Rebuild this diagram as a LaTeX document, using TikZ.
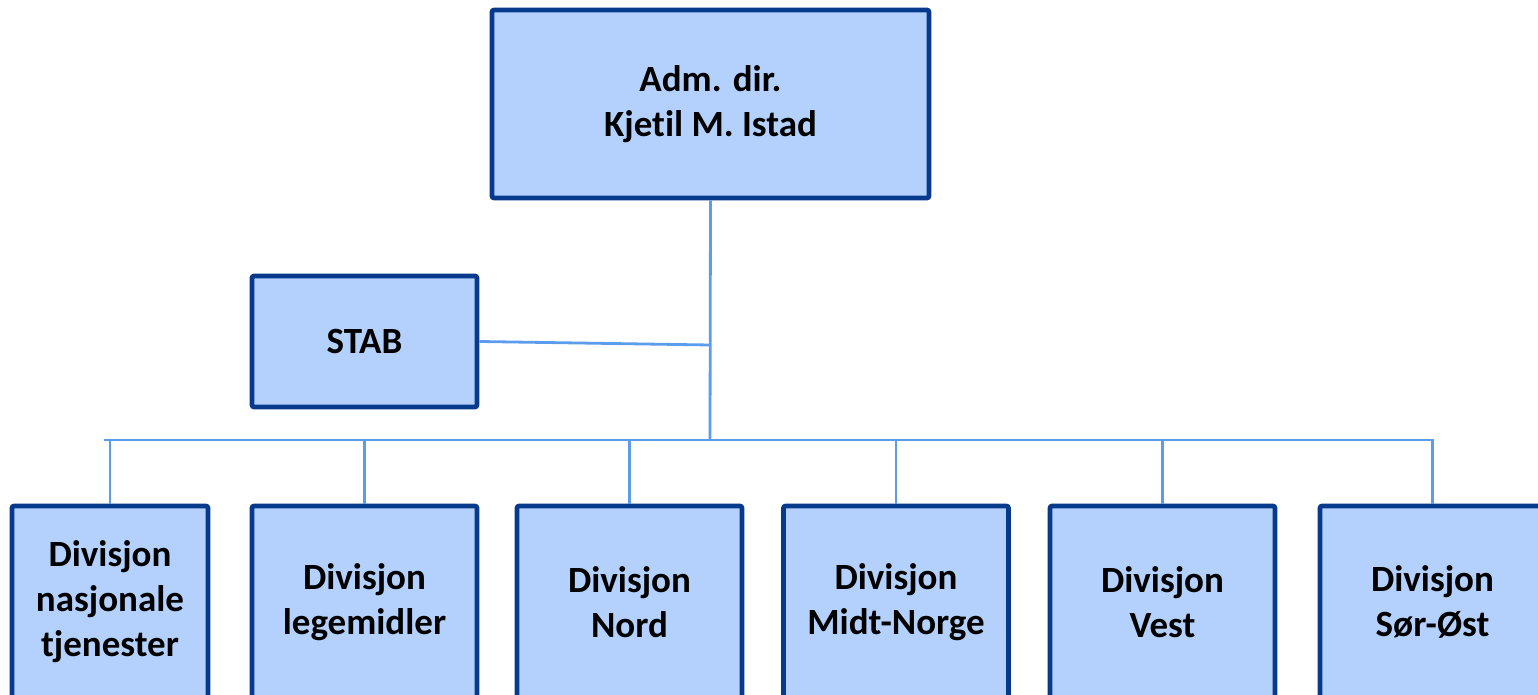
\documentclass[tikz,border=0pt]{standalone}
\usepackage{fontspec}
\setmainfont{Carlito}[Ligatures=NoCommon]
\definecolor{boxfill}{HTML}{B4D0FC}
\definecolor{boxline}{HTML}{083A8C}
\definecolor{wirecol}{HTML}{5C9CEC}
\begin{document}
\begin{tikzpicture}[x=0.5pt,y=-0.5pt]

    \tikzset{
      unit/.style={
        draw=boxline,
        fill=boxfill,
        line width=2.3pt,
        rounded corners=1pt,
        align=center,
        inner sep=0pt,
        font=\fontsize{18.5}{22.5}\selectfont\bfseries,
      },
      wire/.style={
        draw=wirecol,
        line width=1.4pt,
      },
    }
    \useasboundingbox (0,0) rectangle (1538,695);
    \clip (0,0) rectangle (1538,695);

	\node[unit, minimum width=218.5pt, minimum height=94pt] (dir) at (710.5,104) {Adm. dir.\\ Kjetil M. Istad};
	\node[unit, minimum width=112.5pt, minimum height=65.5pt] (stab) at (364.5,341.5) {STAB};

	\node[unit, minimum width=98pt, minimum height=96pt] (nasj) at (110,602) {Divisjon\\ nasjonale\\ tjenester};
	\node[unit, minimum width=112.5pt, minimum height=96pt] (lege) at (364.5,602) {Divisjon\\ legemidler};
	\node[unit, minimum width=112.5pt, minimum height=96pt] (nord) at (629.5,602) {Divisjon\\ Nord};
	\node[unit, minimum width=112.5pt, minimum height=96pt] (midt) at (896,602) {Divisjon\\ Midt-Norge};
	\node[unit, minimum width=112.5pt, minimum height=96pt] (vest) at (1162.5,602) {Divisjon\\ Vest};
	\node[unit, minimum width=112.5pt, minimum height=96pt] (sor) at (1432.5,602) {Divisjon\\ Sør-Øst};

	\coordinate (tap) at (710,345);
	\coordinate (bus) at (710,440);
	\coordinate (busL) at (104,440);
	\coordinate (busR) at (1434,440);

	\draw[wire] (dir.south) -- (bus);
	\draw[wire] (stab.east) -- (tap);
	\draw[wire] (busL) -- (busR);
	\foreach \d in {nasj,lege,nord,midt,vest,sor}
	  \draw[wire] (\d.north) -- (\d.north |- bus);

\end{tikzpicture}
\end{document}
